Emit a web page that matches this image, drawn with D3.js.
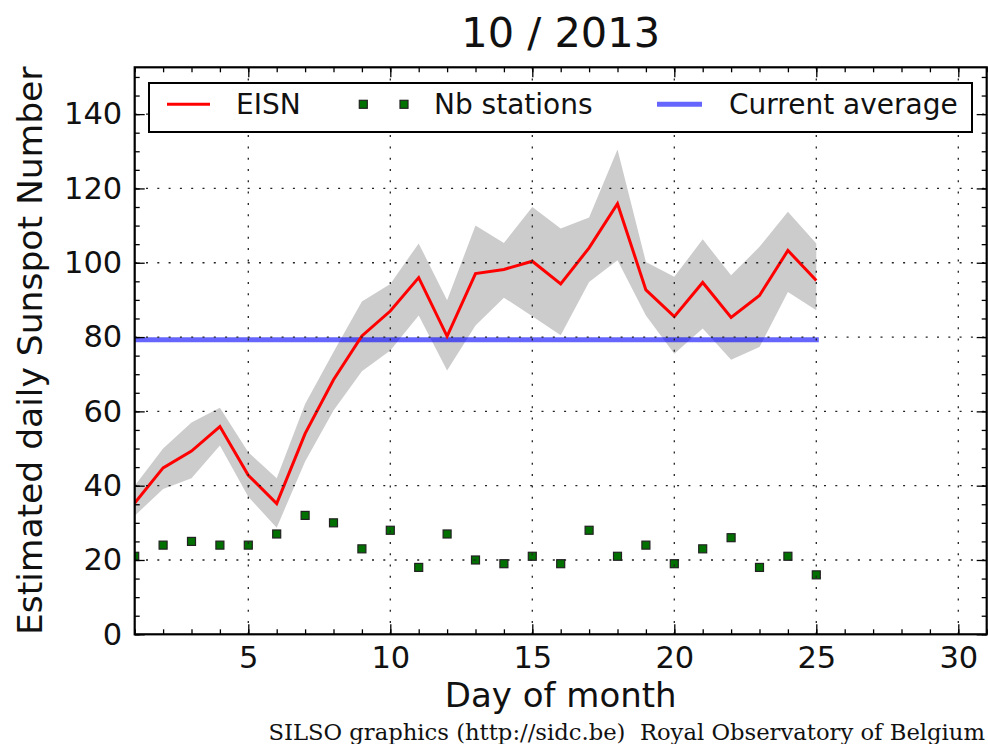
<!DOCTYPE html>
<html><head><meta charset="utf-8">
<script src="https://cdn.jsdelivr.net/npm/d3@7"></script>
<style>body{margin:0;background:#fff;} svg{display:block;}</style>
</head><body>
<script>
// ---- data ----
const days = [1,2,3,4,5,6,7,8,9,10,11,12,13,14,15,16,17,18,19,20,21,22,23,24,25];
const eisn = [35.3,44.8,49.3,55.9,42.8,35.2,54.0,68.5,80.3,87.0,96.0,80.2,97.1,98.2,100.4,94.3,104.0,115.9,92.7,85.5,94.7,85.3,91.2,103.3,95.2];
const eisnHigh = [40.0,50.0,57.0,61.0,49.0,42.0,62.0,76.0,89.6,94.3,105.2,89.9,110.0,105.3,115.0,109.2,112.2,130.5,100.2,96.2,106.3,96.6,104.3,113.7,105.2];
const eisnLow = [31.9,39.1,42.0,50.8,37.0,28.7,46.5,60.2,70.8,76.4,85.8,71.0,83.1,90.6,85.6,80.5,94.8,100.7,85.8,75.5,82.3,73.9,77.3,92.1,87.2];
const nbStations = [21,24,25,24,24,27,32,30,23,28,18,27,20,19,21,19,28,21,24,19,23,26,18,21,16];
const currentAverage = 79.3;
const xTickValues = [5,10,15,20,25,30];
const yTickValues = [0,20,40,60,80,100,120,140];
const titleText = "10 / 2013";
const xLabel = "Day of month";
const yLabel = "Estimated daily Sunspot Number";
const footer = "SILSO graphics (http://sidc.be)  Royal Observatory of Belgium";
const legendLabels = ["EISN", "Nb stations", "Current average"];

// ---- layout ----
const W = 988, H = 744;
const L = 134.7, R = 986.7, T = 67.3, B = 634.3;
const x = d3.scaleLinear().domain([1, 31]).range([L, R]);
const y = d3.scaleLinear().domain([0, 152.6]).range([B, T]);
const FONT = "'DejaVu Sans', sans-serif";

const svg = d3.select("body").append("svg").attr("width", W).attr("height", H)
  .style("font-family", FONT);

svg.append("defs").append("clipPath").attr("id", "clip")
  .append("rect").attr("x", L).attr("y", T).attr("width", R - L).attr("height", B - T);

const plot = svg.append("g").attr("clip-path", "url(#clip)");

// band
const area = d3.area().x((d, i) => x(days[i])).y0((d, i) => y(eisnLow[i])).y1((d, i) => y(eisnHigh[i]));
plot.append("path").datum(days).attr("d", area).attr("fill", "#cccccc");

// current average
plot.append("line")
  .attr("x1", x(days[0])).attr("x2", x(days[days.length - 1]))
  .attr("y1", y(currentAverage)).attr("y2", y(currentAverage))
  .attr("stroke", "#0000ff").attr("stroke-opacity", 0.6).attr("stroke-width", 5)
  .attr("stroke-linecap", "square");

// EISN
const line = d3.line().x((d, i) => x(days[i])).y(d => y(d));
plot.append("path").datum(eisn).attr("d", line).attr("fill", "none")
  .attr("stroke", "#ff0000").attr("stroke-width", 3).attr("stroke-linejoin", "miter");

// stations
const ms = 8;
plot.selectAll("rect.st").data(nbStations).join("rect").attr("class", "st")
  .attr("x", (d, i) => x(days[i]) - ms / 2).attr("y", d => y(d) - ms / 2)
  .attr("width", ms).attr("height", ms)
  .attr("fill", "#007000").attr("stroke", "#222").attr("stroke-width", 1.2);

// grid
const grid = svg.append("g").attr("stroke", "#222").attr("stroke-width", 1.3);
grid.selectAll("line.gx").data(xTickValues).join("line")
  .attr("x1", d => x(d)).attr("x2", d => x(d)).attr("y1", B).attr("y2", T)
  .attr("stroke-dasharray", "2,9.3");
grid.selectAll("line.gy").data(yTickValues.filter(v => v > 0)).join("line")
  .attr("x1", L).attr("x2", R).attr("y1", d => y(d)).attr("y2", d => y(d))
  .attr("stroke-dasharray", "2,9.3");

// axes
function styleAxis(g) {
  g.select(".domain").remove();
  g.selectAll(".tick line").attr("stroke", "#000").attr("stroke-width", 1.3);
  g.selectAll("text").attr("font-size", 30.5).attr("fill", "#111").attr("font-family", FONT);
}
const minorX = d3.range(1, 32), minorY = d3.range(0, 155, 5);
svg.append("g").attr("transform", `translate(0,${B})`)
  .call(d3.axisBottom(x).tickValues(minorX).tickSize(-5).tickFormat("")).call(styleAxis);
svg.append("g").attr("transform", `translate(0,${B})`)
  .call(d3.axisBottom(x).tickValues(xTickValues).tickSize(-10).tickPadding(12.5).tickFormat(d3.format("d"))).call(styleAxis);
svg.append("g").attr("transform", `translate(0,${T})`)
  .call(d3.axisTop(x).tickValues(minorX).tickSize(-5).tickFormat("")).call(styleAxis);
svg.append("g").attr("transform", `translate(0,${T})`)
  .call(d3.axisTop(x).tickValues(xTickValues).tickSize(-10).tickFormat("")).call(styleAxis);
svg.append("g").attr("transform", `translate(${L},0)`)
  .call(d3.axisLeft(y).tickValues(minorY).tickSize(-5).tickFormat("")).call(styleAxis);
svg.append("g").attr("transform", `translate(${L},0)`)
  .call(d3.axisLeft(y).tickValues(yTickValues).tickSize(-10).tickPadding(12.5).tickFormat(d3.format("d"))).call(styleAxis);
svg.append("g").attr("transform", `translate(${R},0)`)
  .call(d3.axisRight(y).tickValues(minorY).tickSize(-5).tickFormat("")).call(styleAxis);
svg.append("g").attr("transform", `translate(${R},0)`)
  .call(d3.axisRight(y).tickValues(yTickValues).tickSize(-10).tickFormat("")).call(styleAxis);

// frame
svg.append("rect").attr("x", L).attr("y", T).attr("width", R - L).attr("height", B - T)
  .attr("fill", "none").attr("stroke", "#000").attr("stroke-width", 2.2);

// legend
const lg = svg.append("g");
lg.append("rect").attr("x", 149).attr("y", 83).attr("width", 823).attr("height", 49)
  .attr("fill", "#fff").attr("stroke", "#000").attr("stroke-width", 2);
const ly = 104.3, lty = 114.3;
lg.append("line").attr("x1", 167).attr("x2", 210).attr("y1", ly).attr("y2", ly)
  .attr("stroke", "#ff0000").attr("stroke-width", 3);
lg.append("text").attr("x", 236).attr("y", lty).attr("font-size", 28).attr("fill", "#111").text(legendLabels[0]);
[363.3, 404].forEach(cx => lg.append("rect").attr("x", cx - ms / 2).attr("y", ly - ms / 2)
  .attr("width", ms).attr("height", ms).attr("fill", "#007000").attr("stroke", "#222").attr("stroke-width", 1.2));
lg.append("text").attr("x", 434).attr("y", lty).attr("font-size", 28).attr("fill", "#111").text(legendLabels[1]);
lg.append("line").attr("x1", 657).attr("x2", 702).attr("y1", ly).attr("y2", ly)
  .attr("stroke", "#0000ff").attr("stroke-opacity", 0.6).attr("stroke-width", 5);
lg.append("text").attr("x", 729).attr("y", lty).attr("font-size", 28).attr("fill", "#111").text(legendLabels[2]);

// titles
svg.append("text").attr("x", (L + R) / 2).attr("y", 47).attr("text-anchor", "middle")
  .attr("font-size", 41.5).attr("fill", "#111").text(titleText);
svg.append("text").attr("x", (L + R) / 2).attr("y", 707).attr("text-anchor", "middle")
  .attr("font-size", 34).attr("fill", "#111").text(xLabel);
svg.append("text").attr("transform", `translate(42,${(T + B) / 2}) rotate(-90)`).attr("text-anchor", "middle")
  .attr("font-size", 34.5).attr("fill", "#111").text(yLabel);
svg.append("text").attr("x", 985).attr("y", 740).attr("text-anchor", "end")
  .style("white-space", "pre").attr("xml:space", "preserve")
  .attr("font-family", "'DejaVu Serif', serif").attr("font-size", 22.7).attr("fill", "#111").text(footer);
</script>
</body></html>
